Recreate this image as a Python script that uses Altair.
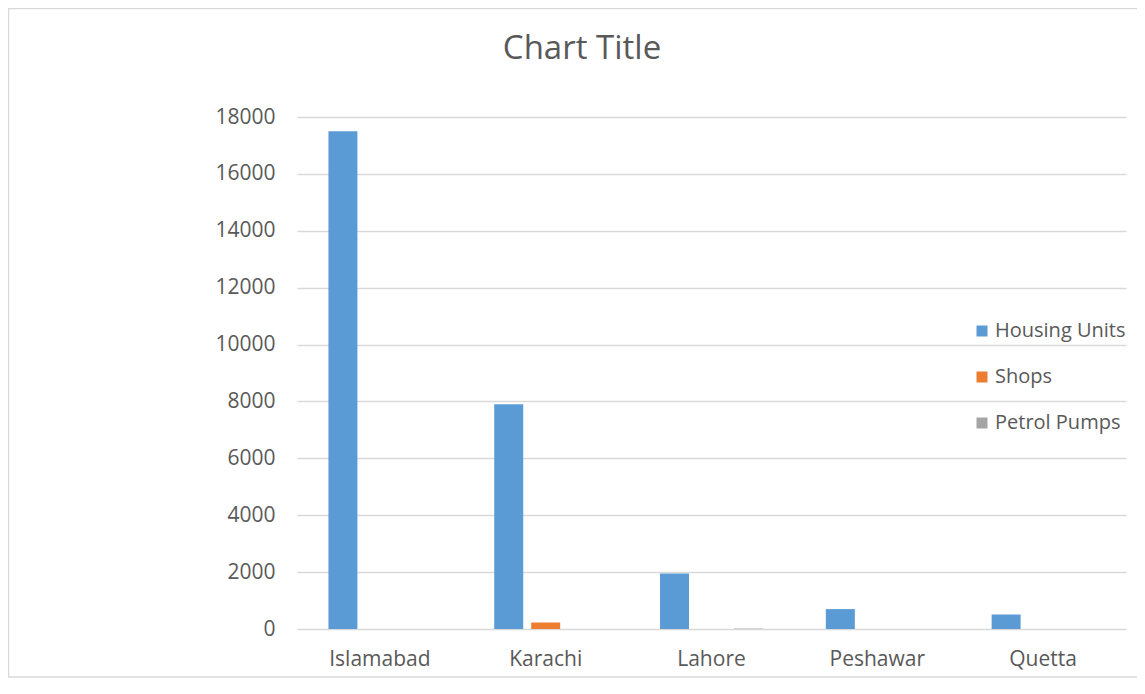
import altair as alt
import pandas as pd

cities = ["Islamabad", "Karachi", "Lahore", "Peshawar", "Quetta"]
series = ["Housing Units", "Shops", "Petrol Pumps"]
housing_units = [17500, 7900, 1950, 700, 510]
shops = [0, 230, 0, 0, 0]
petrol_pumps = [0, 0, 15, 0, 0]
y_ticks = [0, 2000, 4000, 6000, 8000, 10000, 12000, 14000, 16000, 18000]
colors = ["#5B9BD5", "#ED7D31", "#A5A5A5"]
chart_title = "Chart Title"

rows = []
for i, c in enumerate(cities):
    for s, vals in zip(series, [housing_units, shops, petrol_pumps]):
        rows.append({"City": c, "Series": s, "Value": vals[i]})
df = pd.DataFrame(rows)

FONT = "Open Sans"
GREY = "#595959"

bars = alt.Chart(df).mark_bar().encode(
    x=alt.X("City:N", sort=cities,
            scale=alt.Scale(paddingInner=0, paddingOuter=0),
            axis=alt.Axis(title=None, labelAngle=0, ticks=False, domain=False,
                          labelFontSize=21, labelColor=GREY, labelFont=FONT,
                          labelPadding=19)),
    xOffset=alt.XOffset("Series:N", sort=series,
                        scale=alt.Scale(paddingInner=0.216, paddingOuter=0.85)),
    y=alt.Y("Value:Q", scale=alt.Scale(domain=[0, 18000]),
            axis=alt.Axis(title=None, values=y_ticks, ticks=False, domain=False,
                          format="d",
                          gridColor="#D9D9D9", gridWidth=1.5,
                          labelFontSize=21, labelColor=GREY, labelFont=FONT,
                          labelPadding=22)),
    color=alt.Color("Series:N", sort=series,
                    scale=alt.Scale(domain=series, range=colors),
                    legend=alt.Legend(title=None, orient="none", legendX=675, legendY=204,
                                      symbolType="square", symbolSize=121,
                                      symbolStrokeWidth=0,
                                      labelFontSize=20, labelColor=GREY, labelFont=FONT,
                                      rowPadding=26, labelOffset=3)),
)

title_df = pd.DataFrame({"t": [chart_title]})
title = alt.Chart(title_df).mark_text(
    font=FONT, fontSize=33, color=GREY, align="center", baseline="middle"
).encode(text="t:N", x=alt.value(285), y=alt.value(-68))

border = alt.Chart(pd.DataFrame({"a": [0]})).mark_rect(
    fill=None, stroke="#D9D9D9", strokeWidth=1.5
).encode(x=alt.value(-288.5), x2=alt.value(860), y=alt.value(-108.5), y2=alt.value(560))

chart = alt.layer(border, bars, title).properties(
    width=829, height=512,
    autosize=alt.AutoSizeParams(type="none"),
    padding={"left": 289, "top": 109, "right": 11, "bottom": 50},
).configure_view(stroke=None)

chart.save("out.html", embed_options={"renderer": "svg", "actions": False})
